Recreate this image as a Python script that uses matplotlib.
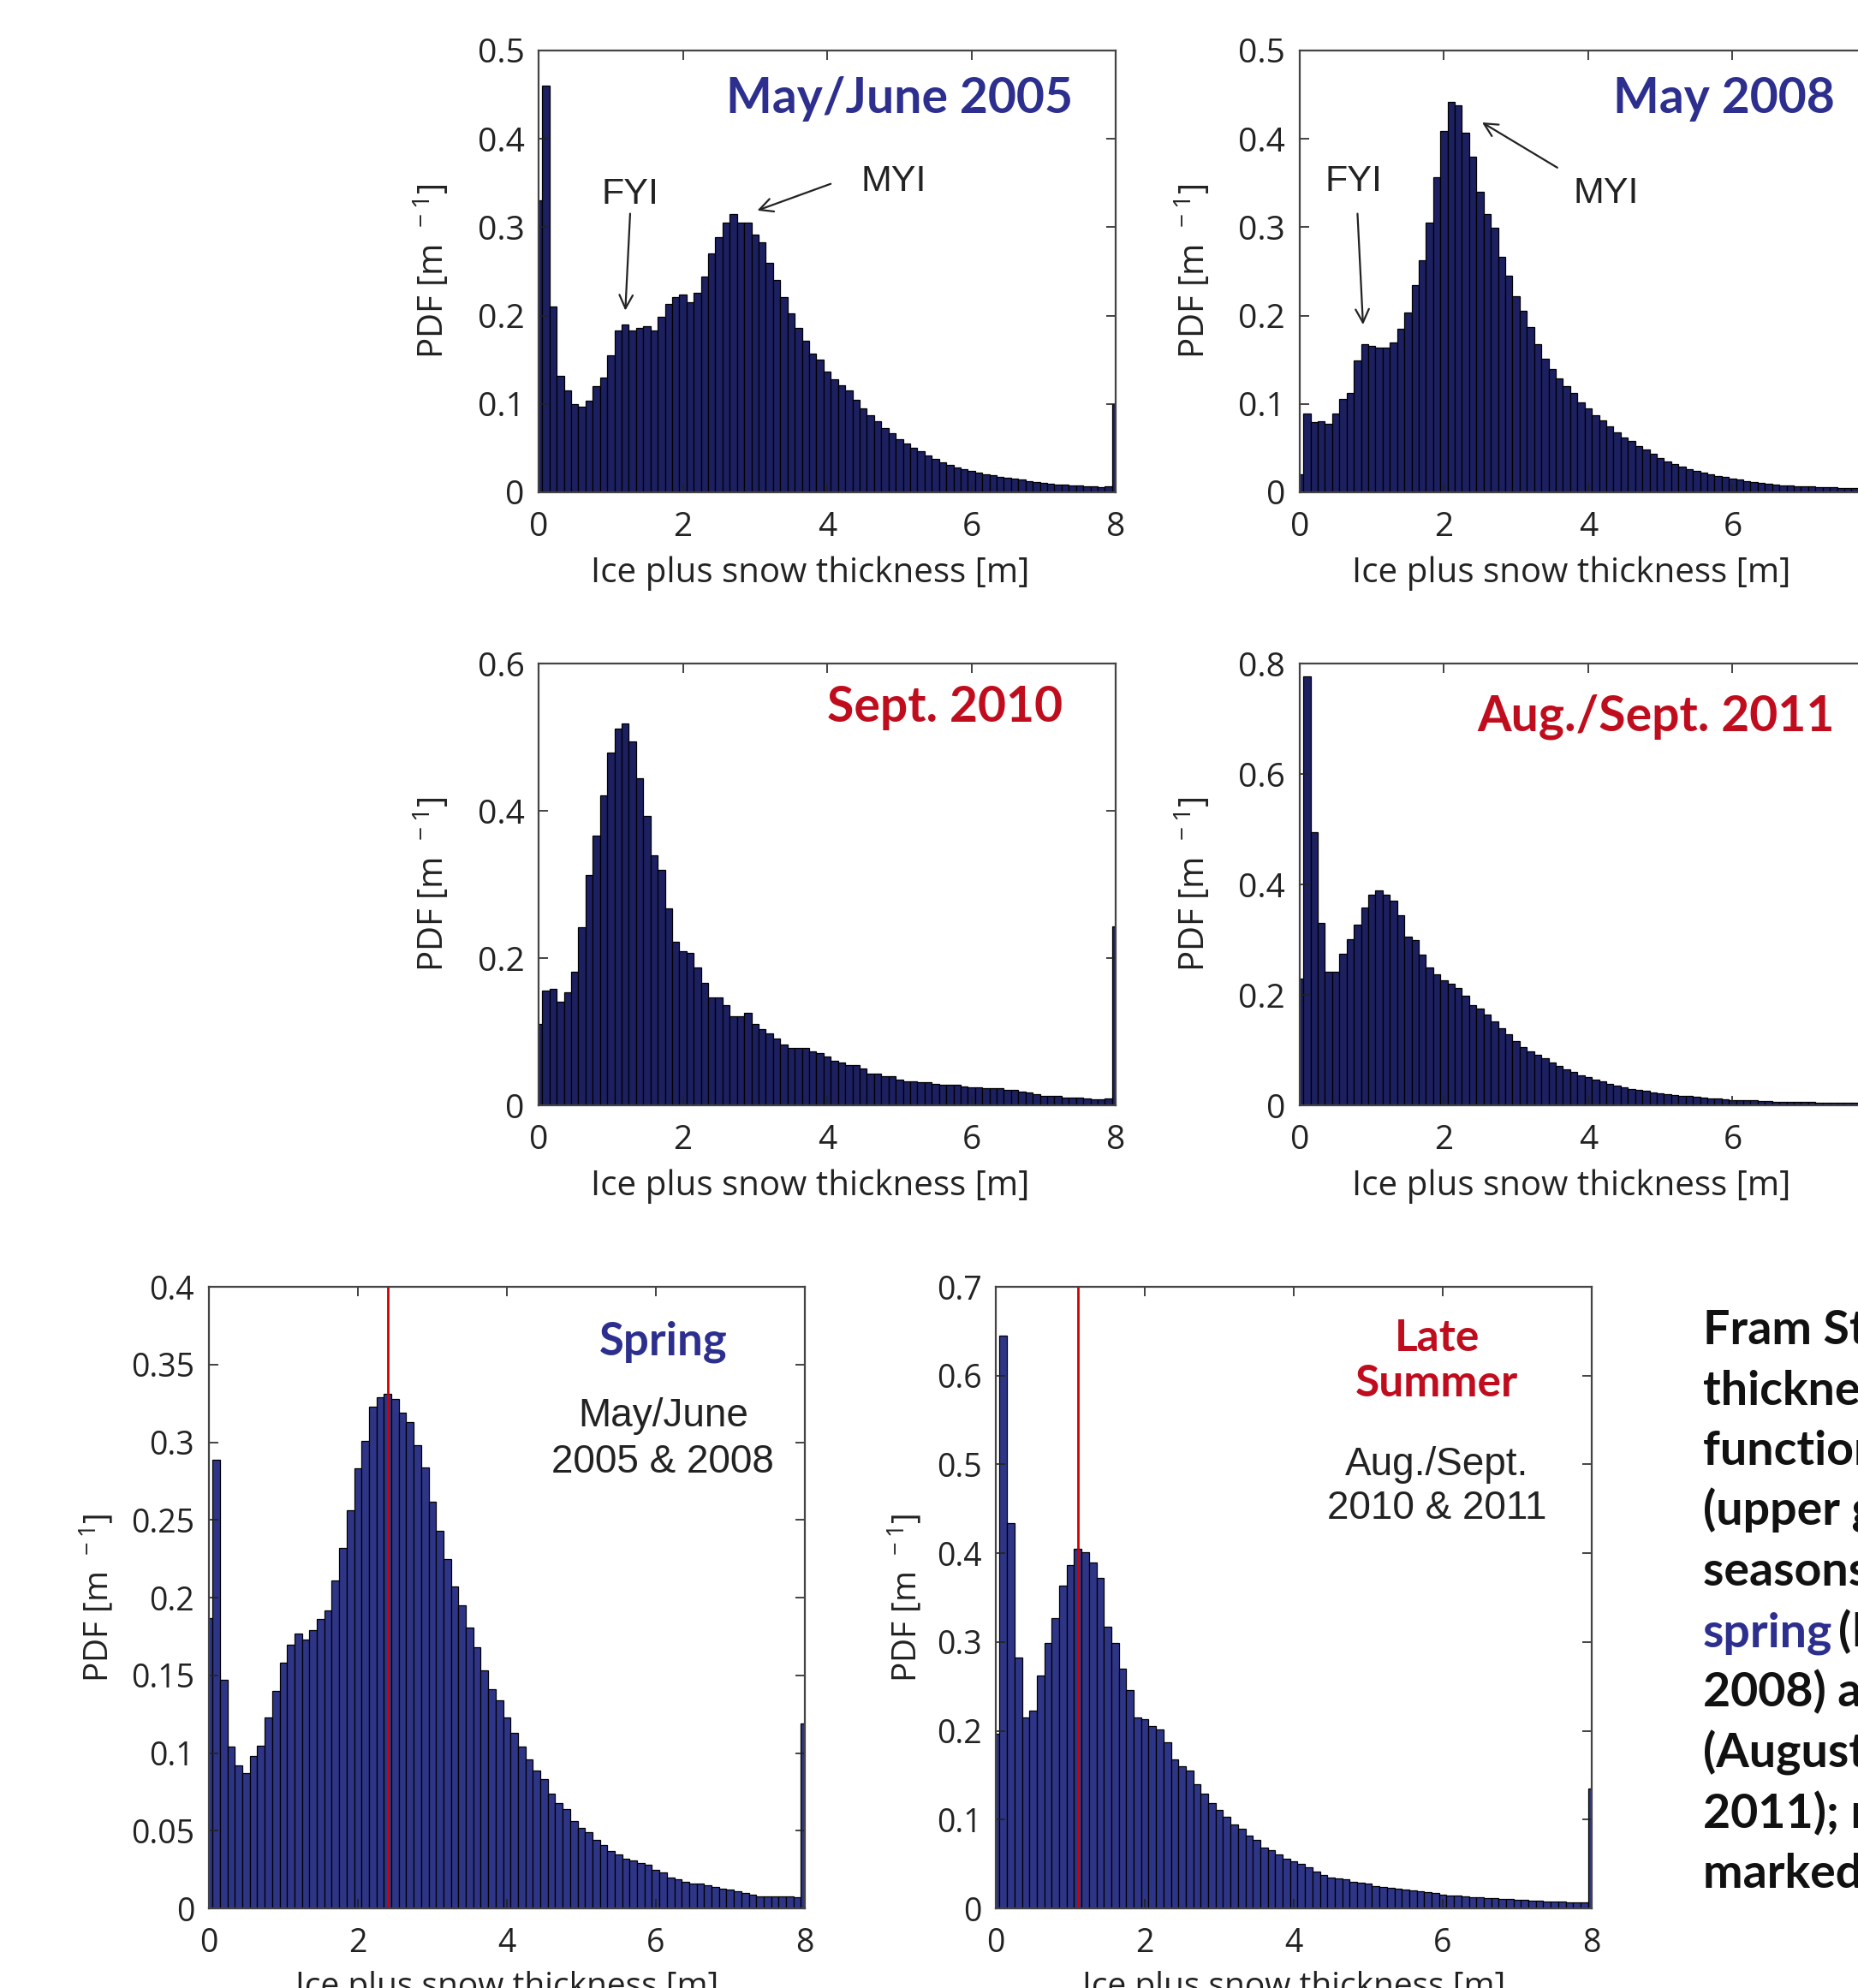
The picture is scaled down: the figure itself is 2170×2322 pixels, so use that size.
import matplotlib
matplotlib.use('Agg')
import matplotlib.pyplot as plt
import numpy as np

plt.rcParams['mathtext.fontset'] = 'custom'
plt.rcParams['mathtext.rm'] = 'Open Sans'
plt.rcParams['mathtext.it'] = 'Open Sans'
plt.rcParams['mathtext.bf'] = 'Open Sans:bold'

# ---------------- data ----------------
bin_centers = np.round(np.arange(0, 8.001, 0.1), 1)   # 0.0 ... 8.0 m (81 bins)

pdf_may_june_2005 = [
    0.33, 0.46, 0.21, 0.132, 0.115, 0.100, 0.097, 0.104, 0.12, 0.13,
    0.155, 0.183, 0.19, 0.183, 0.186, 0.188, 0.183, 0.199, 0.213, 0.221,
    0.224, 0.215, 0.226, 0.244, 0.27, 0.289, 0.305, 0.315, 0.305, 0.305,
    0.292, 0.283, 0.26, 0.24, 0.221, 0.202, 0.186, 0.171, 0.157, 0.15,
    0.137, 0.128, 0.121, 0.115, 0.105, 0.095, 0.087, 0.08, 0.073, 0.067,
    0.06, 0.055, 0.05, 0.046, 0.042, 0.038, 0.034, 0.031, 0.028, 0.026,
    0.024, 0.022, 0.02, 0.019, 0.017, 0.016, 0.015, 0.014, 0.013, 0.012,
    0.011, 0.01, 0.009, 0.009, 0.008, 0.008, 0.007, 0.007, 0.006, 0.007,
    0.10]

pdf_may_2008 = [
    0.02, 0.089, 0.079, 0.08, 0.077, 0.089, 0.106, 0.112, 0.149, 0.168,
    0.166, 0.164, 0.164, 0.17, 0.185, 0.203, 0.234, 0.263, 0.305, 0.357,
    0.409, 0.442, 0.438, 0.407, 0.38, 0.34, 0.315, 0.299, 0.266, 0.245,
    0.222, 0.205, 0.187, 0.168, 0.151, 0.139, 0.129, 0.12, 0.112, 0.102,
    0.095, 0.087, 0.081, 0.075, 0.068, 0.062, 0.058, 0.052, 0.048, 0.044,
    0.039, 0.035, 0.032, 0.029, 0.026, 0.024, 0.022, 0.02, 0.018, 0.017,
    0.015, 0.014, 0.013, 0.012, 0.011, 0.01, 0.009, 0.008, 0.008, 0.007,
    0.007, 0.007, 0.006, 0.006, 0.006, 0.005, 0.005, 0.005, 0.006, 0.007,
    0.05]

pdf_sept_2010 = [
    0.111, 0.156, 0.158, 0.141, 0.154, 0.182, 0.242, 0.313, 0.366, 0.421,
    0.479, 0.512, 0.519, 0.494, 0.444, 0.393, 0.34, 0.32, 0.267, 0.222,
    0.209, 0.207, 0.187, 0.166, 0.146, 0.146, 0.136, 0.121, 0.121, 0.126,
    0.111, 0.103, 0.098, 0.091, 0.083, 0.078, 0.078, 0.078, 0.073, 0.071,
    0.066, 0.061, 0.058, 0.055, 0.055, 0.05, 0.043, 0.043, 0.04, 0.04,
    0.035, 0.033, 0.033, 0.031, 0.031, 0.029, 0.028, 0.028, 0.028, 0.026,
    0.025, 0.024, 0.023, 0.023, 0.023, 0.021, 0.021, 0.019, 0.018, 0.015,
    0.013, 0.013, 0.013, 0.011, 0.011, 0.01, 0.009, 0.008, 0.008, 0.009,
    0.243]

pdf_aug_sept_2011 = [
    0.229, 0.777, 0.495, 0.33, 0.242, 0.242, 0.275, 0.301, 0.327, 0.358,
    0.381, 0.389, 0.381, 0.371, 0.345, 0.306, 0.299, 0.273, 0.25, 0.237,
    0.226, 0.221, 0.213, 0.198, 0.182, 0.175, 0.165, 0.152, 0.14, 0.128,
    0.116, 0.106, 0.098, 0.091, 0.085, 0.078, 0.071, 0.065, 0.06, 0.055,
    0.051, 0.047, 0.043, 0.039, 0.036, 0.033, 0.03, 0.028, 0.026, 0.024,
    0.022, 0.02, 0.019, 0.017, 0.017, 0.015, 0.014, 0.013, 0.012, 0.011,
    0.01, 0.01, 0.009, 0.009, 0.008, 0.008, 0.007, 0.007, 0.007, 0.006,
    0.006, 0.006, 0.005, 0.005, 0.005, 0.005, 0.005, 0.004, 0.004, 0.004,
    0.03]

pdf_spring = [
    0.187, 0.289, 0.147, 0.104, 0.092, 0.087, 0.098, 0.105, 0.123, 0.14,
    0.158, 0.17, 0.177, 0.173, 0.179, 0.186, 0.192, 0.211, 0.232, 0.256,
    0.283, 0.301, 0.323, 0.329, 0.331, 0.328, 0.319, 0.313, 0.298, 0.284,
    0.262, 0.243, 0.225, 0.207, 0.195, 0.181, 0.168, 0.153, 0.141, 0.134,
    0.123, 0.113, 0.104, 0.096, 0.089, 0.083, 0.074, 0.068, 0.064, 0.056,
    0.052, 0.049, 0.044, 0.041, 0.037, 0.035, 0.032, 0.031, 0.029, 0.028,
    0.025, 0.023, 0.02, 0.019, 0.017, 0.016, 0.016, 0.015, 0.014, 0.013,
    0.012, 0.011, 0.01, 0.009, 0.008, 0.008, 0.008, 0.008, 0.008, 0.007,
    0.119]

pdf_late_summer = [
    0.197, 0.645, 0.434, 0.283, 0.215, 0.223, 0.262, 0.299, 0.327, 0.364,
    0.387, 0.405, 0.401, 0.39, 0.372, 0.317, 0.299, 0.27, 0.246, 0.215,
    0.213, 0.205, 0.202, 0.187, 0.168, 0.16, 0.155, 0.14, 0.129, 0.119,
    0.111, 0.103, 0.095, 0.09, 0.082, 0.077, 0.069, 0.066, 0.061, 0.056,
    0.053, 0.05, 0.046, 0.042, 0.038, 0.035, 0.034, 0.033, 0.03, 0.029,
    0.028, 0.025, 0.024, 0.023, 0.022, 0.021, 0.02, 0.019, 0.018, 0.017,
    0.016, 0.015, 0.015, 0.014, 0.013, 0.013, 0.012, 0.012, 0.011, 0.011,
    0.01, 0.01, 0.009, 0.009, 0.008, 0.008, 0.008, 0.007, 0.007, 0.007,
    0.135]

spring_mode = 2.4
late_summer_mode = 1.1

x_ticks = [0, 2, 4, 6, 8]
x_ticklabels = ['0', '2', '4', '6', '8']
yt_05 = [0, 0.1, 0.2, 0.3, 0.4, 0.5]
yl_05 = ['0', '0.1', '0.2', '0.3', '0.4', '0.5']
yt_06 = [0, 0.2, 0.4, 0.6]
yl_06 = ['0', '0.2', '0.4', '0.6']
yt_08 = [0, 0.2, 0.4, 0.6, 0.8]
yl_08 = ['0', '0.2', '0.4', '0.6', '0.8']
yt_04 = [0, 0.05, 0.1, 0.15, 0.2, 0.25, 0.3, 0.35, 0.4]
yl_04 = ['0', '0.05', '0.1', '0.15', '0.2', '0.25', '0.3', '0.35', '0.4']
yt_07 = [0, 0.1, 0.2, 0.3, 0.4, 0.5, 0.6, 0.7]
yl_07 = ['0', '0.1', '0.2', '0.3', '0.4', '0.5', '0.6', '0.7']

xlabel_text = 'Ice plus snow thickness [m]'
ylabel_text = r'PDF [m$^{\ \,-1}$]'

# ---------------- style ----------------
BLUE = '#2c2f8e'
RED = '#c00d1e'
TOP_BAR = '#1c2060'
BOT_BAR = '#2e3586'
SANS = 'Open Sans'
TITLE_FONT = 'Lato'
NOTE_FONT = 'Liberation Sans'

fig = plt.figure(figsize=(21.7, 23.22), dpi=100)


def panel(rect, values, ymax, yt, yl, bar_color, tick_fs, xlab_fs, ylab_fs, ylab_x, xlab_x, xlab_y):
    ax = fig.add_axes(rect)
    ax.bar(bin_centers, values, width=0.1, align='center', color=bar_color,
           edgecolor='black', linewidth=0.9)
    ax.set_xlim(0, 8)
    ax.set_ylim(0, ymax)
    ax.set_xticks(x_ticks)
    ax.set_xticklabels(x_ticklabels, fontfamily=SANS)
    ax.set_yticks(yt)
    ax.set_yticklabels(yl, fontfamily=SANS)
    ax.tick_params(direction='in', top=True, right=True, length=8, width=1.2,
                   labelsize=tick_fs, colors='#222222')
    ax.tick_params(axis='x', pad=16)
    ax.tick_params(axis='y', pad=12)
    for s in ax.spines.values():
        s.set_color('#444444')
        s.set_linewidth(1.6)
    ax.set_xlabel(xlabel_text, fontsize=xlab_fs, fontfamily=SANS, color='#222222')
    ax.set_ylabel(ylabel_text, fontsize=ylab_fs, fontfamily=SANS, color='#222222')
    ax.yaxis.set_label_coords(ylab_x, 0.5)
    ax.xaxis.set_label_coords(xlab_x, xlab_y)
    return ax


W_TOP = 0.3106
H_TOP = 0.2222
ax1 = panel([0.2899, 0.7524, W_TOP, H_TOP], pdf_may_june_2005, 0.5, yt_05, yl_05,
            TOP_BAR, 28, 29, 29, -0.15, 0.47, -0.145)
ax2 = panel([0.6995, 0.7524, W_TOP, H_TOP], pdf_may_2008, 0.5, yt_05, yl_05,
            TOP_BAR, 28, 29, 29, -0.15, 0.47, -0.145)
ax3 = panel([0.2899, 0.4440, W_TOP, H_TOP], pdf_sept_2010, 0.6, yt_06, yl_06,
            TOP_BAR, 28, 29, 29, -0.15, 0.47, -0.145)
ax4 = panel([0.6995, 0.4440, W_TOP, H_TOP], pdf_aug_sept_2011, 0.8, yt_08, yl_08,
            TOP_BAR, 28, 29, 29, -0.15, 0.47, -0.145)
ax5 = panel([0.1124, 0.0400, 0.3207, 0.3127], pdf_spring, 0.4, yt_04, yl_04,
            BOT_BAR, 27, 28, 28, -0.155, 0.5, -0.1)
ax6 = panel([0.5360, 0.0400, 0.3207, 0.3127], pdf_late_summer, 0.7, yt_07, yl_07,
            BOT_BAR, 27, 28, 28, -0.12, 0.5, -0.1)

# titles inside top panels
TITLE_FS = 41
ax1.text(0.925, 0.89, 'May/June 2005', transform=ax1.transAxes, ha='right', va='center',
         fontsize=TITLE_FS, fontweight='bold', fontfamily=TITLE_FONT, color=BLUE)
ax2.text(0.927, 0.89, 'May 2008', transform=ax2.transAxes, ha='right', va='center',
         fontsize=TITLE_FS, fontweight='bold', fontfamily=TITLE_FONT, color=BLUE)
ax3.text(0.908, 0.90, 'Sept. 2010', transform=ax3.transAxes, ha='right', va='center',
         fontsize=TITLE_FS, fontweight='bold', fontfamily=TITLE_FONT, color=RED)
ax4.text(0.927, 0.88, 'Aug./Sept. 2011', transform=ax4.transAxes, ha='right', va='center',
         fontsize=TITLE_FS, fontweight='bold', fontfamily=TITLE_FONT, color=RED)

# FYI / MYI annotations
arrow = dict(arrowstyle='->', color='#222222', lw=1.6, mutation_scale=28)
ax1.text(1.27, 0.337, 'FYI', ha='center', va='center', fontsize=31, fontfamily=NOTE_FONT, color='#222222')
ax1.annotate('', xy=(1.2, 0.203), xytext=(1.27, 0.318), arrowprops=arrow)
ax1.text(4.92, 0.352, 'MYI', ha='center', va='center', fontsize=31, fontfamily=NOTE_FONT, color='#222222')
ax1.annotate('', xy=(3.0, 0.318), xytext=(4.08, 0.350), arrowprops=arrow)

ax2.text(0.75, 0.352, 'FYI', ha='center', va='center', fontsize=31, fontfamily=NOTE_FONT, color='#222222')
ax2.annotate('', xy=(0.88, 0.187), xytext=(0.8, 0.318), arrowprops=arrow)
ax2.text(4.25, 0.338, 'MYI', ha='center', va='center', fontsize=31, fontfamily=NOTE_FONT, color='#222222')
ax2.annotate('', xy=(2.5, 0.42), xytext=(3.6, 0.366), arrowprops=arrow)

# bottom panels: modes and labels
ax5.axvline(spring_mode, color='#d00000', lw=2)
ax6.axvline(late_summer_mode, color='#d00000', lw=2)

ax5.text(0.762, 0.912, 'Spring', transform=ax5.transAxes, ha='center', va='center',
         fontsize=38, fontweight='bold', fontfamily=TITLE_FONT, color=BLUE)
ax5.text(0.762, 0.755, 'May/June\n2005 & 2008', transform=ax5.transAxes, ha='center', va='center',
         fontsize=33, fontfamily=NOTE_FONT, color='#222222', linespacing=1.3)
ax6.text(0.74, 0.88, 'Late\nSummer', transform=ax6.transAxes, ha='center', va='center',
         fontsize=37, fontweight='bold', fontfamily=TITLE_FONT, color=RED, linespacing=1.15)
ax6.text(0.74, 0.678, 'Aug./Sept.\n2010 & 2011', transform=ax6.transAxes, ha='center', va='center',
         fontsize=33, fontfamily=NOTE_FONT, color='#222222', linespacing=1.2)

# caption on the right (runs off the figure edge as in the original)
caption_lines = [
    'Fram Strait ice',
    'thickness distribution',
    'functions for each survey',
    '(upper graphs) and both',
    'seasons (lower graphs):',
    None,
    '2008) and late summer',
    '(August/September 2010 &',
    '2011); modes are',
    'marked in red.',
]
x_cap = 0.9166
y_first = 0.3238
dy = 0.0304
for i, line in enumerate(caption_lines):
    y = y_first - i * dy
    if line is None:
        t = fig.text(x_cap, y, 'spring', ha='left', va='baseline', fontsize=40,
                     fontweight='bold', fontfamily=TITLE_FONT, color=BLUE)
        fig.canvas.draw()
        bb = t.get_window_extent()
        x_next = bb.x1 / fig.bbox.width
        fig.text(x_next, y, '\u2009(May/June 2005 &', ha='left', va='baseline', fontsize=40,
                 fontweight='bold', fontfamily=[TITLE_FONT, 'DejaVu Sans'], color='#111111')
    else:
        fig.text(x_cap, y, line, ha='left', va='baseline', fontsize=40,
                 fontweight='bold', fontfamily=TITLE_FONT, color='#111111')

fig.savefig('out.png', dpi=100)
